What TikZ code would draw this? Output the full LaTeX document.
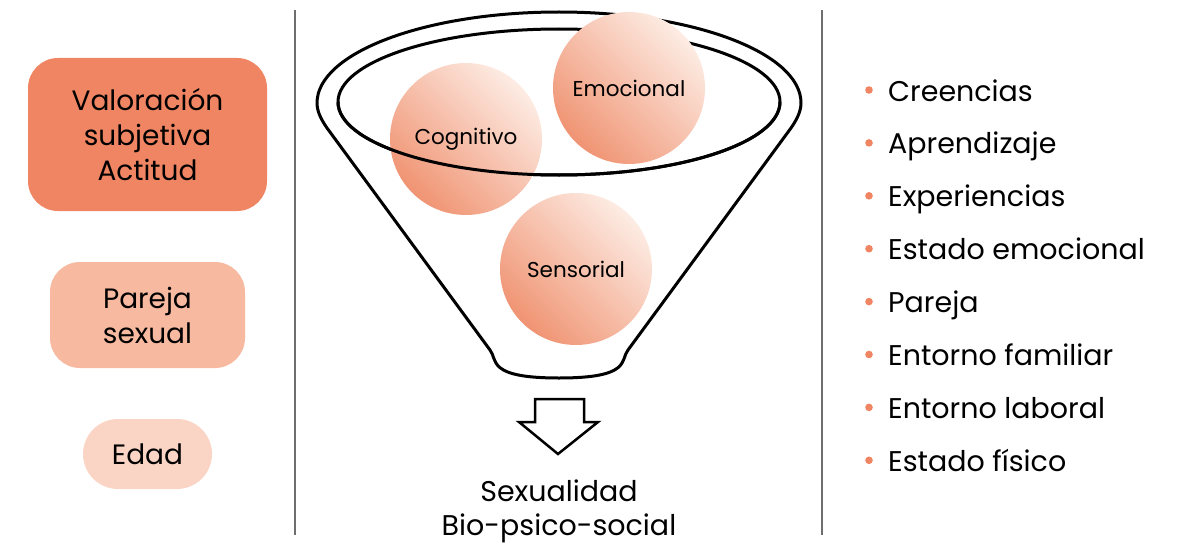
\documentclass[tikz,border=0pt]{standalone}
\usepackage{fontspec}
\setmainfont{Poppins}
\usetikzlibrary{positioning}
\definecolor{coral}{RGB}{239,133,98}
\definecolor{peach}{RGB}{247,185,160}
\definecolor{blush}{RGB}{250,213,197}
\definecolor{shell}{RGB}{253,236,228}
\definecolor{salmon}{RGB}{240,148,115}
\definecolor{divider}{RGB}{110,110,110}
\tikzset{
  factor/.style={fill=#1,rounded corners=30pt,align=center,
    font=\fontsize{28}{35}\selectfont,text=black},
  factor/.default=coral,
  ball/.style={circle,minimum size=152pt,inner sep=0pt,
    top color=shell,bottom color=salmon,shading angle=-45,
    font=\fontsize{21.5}{24}\selectfont},
  item/.style={anchor=base west,inner sep=0pt,font=\fontsize{28.5}{30}\selectfont},
  funnel/.style={line width=3pt,line join=round},
}

\begin{document}
\begin{tikzpicture}[x=1pt,y=-1pt]
  \useasboundingbox (0,0) rectangle (1178,543);
  % left column
  \node[factor=coral,minimum width=239pt,minimum height=153pt] (val) at (147.5,134.5)
    {Valoración\\subjetiva\\Actitud};
  \node[factor=peach,minimum width=195pt,minimum height=106pt] (pareja) at (147.5,315)
    {Pareja\\sexual};
  \node[factor=blush,minimum width=129pt,minimum height=70pt,rounded corners=35pt] (edad) at (147.5,454)
    {Edad};
  % dividers
  \draw[divider,line width=2pt] (295,10) -- (295,535);
  \draw[divider,line width=2pt] (822,10) -- (822,535);
  % funnel
  \draw[funnel] (490,350) -- (327,128) .. controls (320,118) and (317,110) .. (317,103)
    arc (180:360:242 and 91)
    .. controls (801,110) and (798,118) .. (791,128) -- (628,350)
    .. controls (620,360) and (632,378) .. (559,378)
    .. controls (486,378) and (498,360) .. (490,350) -- cycle;
  \draw[funnel] (559,102) ellipse (221 and 73);
  \node[ball] (cog) at (466,139) {Cognitivo};
  \node[ball] (emo) at (629,88) {Emocional};
  \node[ball] (sen) at (576,269) {Sensorial};
  \draw[funnel] (338,102) arc (180:0:221 and 73);
  % output
  \draw[line width=2.5pt,line join=miter] (535,399) -- (584,399) -- (584,422) -- (598,422)
    -- (558,454) -- (519,422) -- (535,422) -- cycle;
  \node[align=center,font=\fontsize{28.5}{34}\selectfont] (out) at (559,511)
    {Sexualidad\\Bio-psico-social};
  % right column
  \foreach \txt [count=\i] in {Creencias,Aprendizaje,Experiencias,Estado emocional,
      Pareja,Entorno familiar,Entorno laboral,Estado físico} {
    \node[item] (f\i) at (888,{101+52.9*(\i-1)}) {\txt};
    \fill[coral] (869,{90+52.9*(\i-1)}) circle (3.8);
  }
\end{tikzpicture}
\end{document}
